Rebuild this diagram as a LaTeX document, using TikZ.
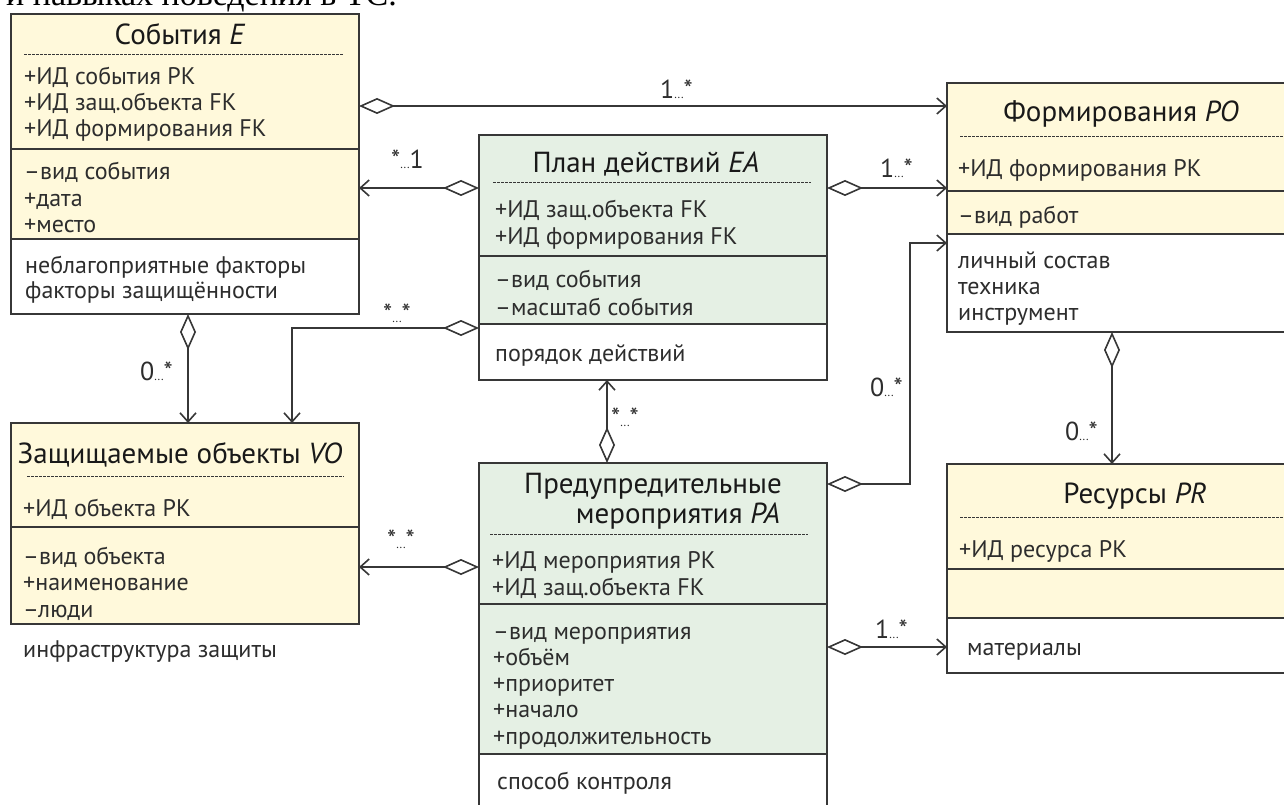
\documentclass[tikz,border=0pt]{standalone}
\usepackage{fontspec}
\setmainfont{PT Sans}
\newfontfamily\serifx{Liberation Serif}
\usetikzlibrary{arrows.meta}
\definecolor{ycol}{RGB}{255,249,219}
\definecolor{gcol}{RGB}{229,240,228}
\definecolor{linec}{RGB}{55,55,55}
\definecolor{txtc}{RGB}{45,45,45}
\newcommand\dts{{\fontsize{12}{12}\selectfont...}}
\begin{document}
\begin{tikzpicture}[x=1pt,y=-1pt,
  boxn/.style={rectangle, inner sep=0pt, outer sep=0pt, anchor=north west, fill=white, draw=none},
  frame/.style={draw=linec, line width=1.8pt},
  sep/.style={draw=linec, line width=1.8pt},
  dsh/.style={draw=linec, line width=0.9pt, dash pattern=on 2.5pt off 1.5pt},
  ttl/.style={font=\fontsize{29}{30}\selectfont, text=black!90, anchor=base, inner sep=0pt},
  txt/.style={font=\fontsize{24}{26}\selectfont, text=txtc, anchor=base west, inner sep=0pt},
  mult/.style={font=\fontsize{26}{26}\selectfont, text=txtc, anchor=base west, inner sep=0pt},
  agg/.style={draw=linec, line width=1.6pt, {Diamond[fill=white,length=36pt,width=16pt,line width=1.6pt]}-{Straight Barb[length=9pt,width=16pt,line width=1.6pt]}}
]
\useasboundingbox (0,0) rectangle (1284,805);
\clip (0,0) rectangle (1284,805);
\fill[white] (0,0) rectangle (1284,805);

\node[font=\serifx\fontsize{34}{36}\selectfont, anchor=base west, inner sep=0pt] (toptext) at (6,6) {и навыках поведения в ТС.};

% ---------- Box E
\node[boxn, minimum width=348pt, minimum height=300pt] (E) at (11,14) {};
\fill[ycol] (E.north west) rectangle (E.east |- 0,239);
\draw[sep] (E.west |- 0,149) -- (E.east |- 0,149);
\draw[sep] (E.west |- 0,239) -- (E.east |- 0,239);
\draw[dsh] (24,54) -- (344,54);
\draw[frame] (E.north west) rectangle (E.south east);
\node[ttl] (Et) at (180,45) {События \textit{E}};
\foreach \t [count=\i] in {+ИД события PK,+ИД защ.объекта FK,+ИД формирования FK}
  \node[txt] (Ea\i) at (24,{85+26*(\i-1)}) {\t};
\foreach \t [count=\i] in {–вид события,+дата,+место}
  \node[txt] (Eb\i) at (24,{180+26*(\i-1)}) {\t};
\foreach \t [count=\i] in {неблагоприятные факторы,факторы защищённости}
  \node[txt] (Ec\i) at (25,{273+25*(\i-1)}) {\t};

% ---------- Box VO
\node[boxn, minimum width=348pt, minimum height=201pt] (VO) at (11,423) {};
\fill[ycol] (VO.north west) rectangle (VO.south east);
\draw[sep] (VO.west |- 0,527) -- (VO.east |- 0,527);
\draw[dsh] (27,476) -- (344,476);
\draw[frame] (VO.north west) rectangle (VO.south east);
\node[ttl] (VOt) at (180,463) {Защищаемые объекты \textit{VO}};
\node[txt] (VOa1) at (23,516) {+ИД объекта PK};
\foreach \t [count=\i] in {–вид объекта,+наименование,–люди}
  \node[txt] (VOb\i) at (23,{564+26.5*(\i-1)}) {\t};
\node[txt] (VOc1) at (23,657) {инфраструктура защиты};

% ---------- Box EA
\node[boxn, minimum width=348pt, minimum height=245pt] (EA) at (479,135) {};
\fill[gcol] (EA.north west) rectangle (EA.east |- 0,324);
\draw[sep] (EA.west |- 0,256) -- (EA.east |- 0,256);
\draw[sep] (EA.west |- 0,324) -- (EA.east |- 0,324);
\draw[dsh] (493,182) -- (811,182);
\draw[frame] (EA.north west) rectangle (EA.south east);
\node[ttl] (EAt) at (646,173) {План действий \textit{EA}};
\foreach \t [count=\i] in {+ИД защ.объекта FK,+ИД формирования FK}
  \node[txt] (EAa\i) at (495,{217+27*(\i-1)}) {\t};
\foreach \t [count=\i] in {–вид события,–масштаб события}
  \node[txt] (EAb\i) at (495,{287+28*(\i-1)}) {\t};
\node[txt] (EAc1) at (495,361) {порядок действий};

% ---------- Box PA
\node[boxn, minimum width=348pt, minimum height=367pt] (PA) at (479,463) {};
\fill[gcol] (PA.north west) rectangle (PA.east |- 0,754);
\draw[sep] (PA.west |- 0,604) -- (PA.east |- 0,604);
\draw[sep] (PA.west |- 0,754) -- (PA.east |- 0,754);
\draw[dsh] (490,534) -- (808,534);
\draw[frame] (PA.north west) rectangle (PA.south east);
\node[ttl] (PAt1) at (653,493) {Предупредительные};
\node[ttl] (PAt2) at (678,523) {мероприятия \textit{PA}};
\foreach \t [count=\i] in {+ИД мероприятия PK,+ИД защ.объекта FK}
  \node[txt] (PAa\i) at (492,{568+27*(\i-1)}) {\t};
\foreach \t [count=\i] in {–вид мероприятия,+объём,+приоритет,+начало,+продолжительность}
  \node[txt] (PAb\i) at (493,{639+26.3*(\i-1)}) {\t};
\node[txt] (PAc1) at (497,789) {способ контроля};

% ---------- Box PO
\node[boxn, minimum width=353pt, minimum height=249pt] (PO) at (947,83) {};
\fill[ycol] (PO.north west) rectangle (PO.east |- 0,234);
\draw[sep] (PO.west |- 0,191) -- (PO.east |- 0,191);
\draw[sep] (PO.west |- 0,234) -- (PO.east |- 0,234);
\draw[dsh] (960,136) -- (1300,136);
\draw[frame] (PO.north west) rectangle (PO.south east);
\node[ttl] (POt) at (1121,122) {Формирования \textit{PO}};
\node[txt] (POa1) at (958,177) {+ИД формирования PK};
\node[txt] (POb1) at (958,223) {–вид работ};
\foreach \t [count=\i] in {личный состав,техника,инструмент}
  \node[txt] (POc\i) at (958,{268+26*(\i-1)}) {\t};

% ---------- Box PR
\node[boxn, minimum width=353pt, minimum height=209pt] (PR) at (947,464) {};
\fill[ycol] (PR.north west) rectangle (PR.east |- 0,618);
\draw[sep] (PR.west |- 0,569) -- (PR.east |- 0,569);
\draw[sep] (PR.west |- 0,618) -- (PR.east |- 0,618);
\draw[dsh] (960,517) -- (1300,517);
\draw[frame] (PR.north west) rectangle (PR.south east);
\node[ttl] (PRt) at (1135,503) {Ресурсы \textit{PR}};
\node[txt] (PRa1) at (959,557) {+ИД ресурса PK};
\node[txt] (PRc1) at (967,655) {материалы};

% ---------- Connectors
\draw[agg] (E.east |- 0,106) -- (PO.west |- 0,106);
\draw[agg] (EA.west |- 0,188) -- (E.east |- 0,188);
\draw[agg] (EA.east |- 0,188) -- (PO.west |- 0,188);
\draw[agg] (E.south -| 188,0) -- (VO.north -| 188,0);
\draw[agg] (EA.west |- 0,328) -| (VO.north -| 292,0);
\draw[agg] (PA.north -| 607,0) -- (EA.south -| 607,0);
\draw[agg] (PA.west |- 0,567) -- (VO.east |- 0,567);
\draw[agg] (PA.east |- 0,484) -- (910,484) |- (PO.west |- 0,243);
\draw[agg] (PO.south -| 1112,0) -- (PR.north -| 1112,0);
\draw[agg] (PA.east |- 0,647) -- (PR.west |- 0,647);

% ---------- Multiplicities
\node[mult] (m1) at (660,99) {1\dts*};
\node[mult] (m2) at (391,168) {*\dts 1};
\node[mult] (m3) at (880,178) {1\dts*};
\node[mult] (m4) at (140,380) {0\dts*};
\node[mult] (m5) at (383,322) {*\dts*};
\node[mult] (m6) at (611,426) {*\dts*};
\node[mult] (m7) at (387,548) {*\dts*};
\node[mult] (m8) at (870,396) {0\dts*};
\node[mult] (m9) at (1065,440) {0\dts*};
\node[mult] (m10) at (875,638) {1\dts*};
\end{tikzpicture}
\end{document}
